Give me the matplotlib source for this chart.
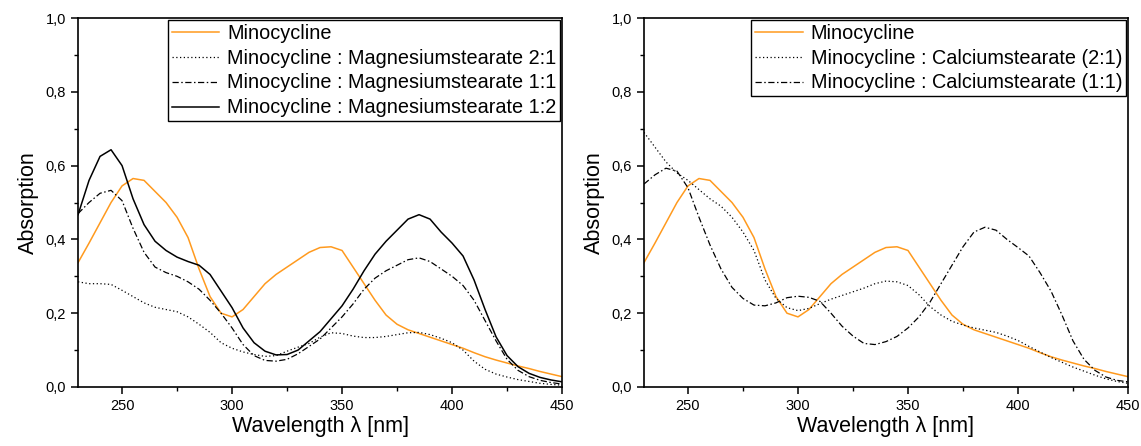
import numpy as np
import matplotlib.pyplot as plt
from matplotlib.ticker import MultipleLocator, FuncFormatter

plt.rcParams['font.family'] = ['Liberation Sans', 'DejaVu Sans']

# wavelength grid (nm), values every 5 nm
wavelength = np.arange(230, 451, 5)

minocycline = [0.337, 0.39, 0.445, 0.50, 0.545, 0.565, 0.56, 0.53, 0.50, 0.46,
               0.405, 0.32, 0.245, 0.20, 0.19, 0.21, 0.245, 0.28, 0.305, 0.325,
               0.345, 0.365, 0.378, 0.38, 0.37, 0.325, 0.28, 0.235, 0.195, 0.17,
               0.155, 0.145, 0.135, 0.125, 0.115, 0.105, 0.093, 0.082, 0.073, 0.065,
               0.057, 0.05, 0.042, 0.035, 0.028]

mg_2_1 = [0.285, 0.28, 0.28, 0.278, 0.262, 0.245, 0.228, 0.216, 0.21, 0.204,
          0.19, 0.17, 0.148, 0.12, 0.105, 0.095, 0.088, 0.083, 0.085, 0.097,
          0.108, 0.118, 0.135, 0.147, 0.145, 0.138, 0.134, 0.134, 0.137, 0.142,
          0.147, 0.148, 0.142, 0.132, 0.12, 0.10, 0.07, 0.048, 0.035, 0.027,
          0.02, 0.015, 0.01, 0.007, 0.005]

mg_1_1 = [0.47, 0.50, 0.525, 0.533, 0.505, 0.43, 0.365, 0.325, 0.31, 0.30,
          0.285, 0.265, 0.235, 0.20, 0.16, 0.115, 0.085, 0.072, 0.07, 0.075,
          0.09, 0.11, 0.13, 0.16, 0.19, 0.225, 0.265, 0.295, 0.315, 0.33,
          0.345, 0.35, 0.34, 0.32, 0.30, 0.275, 0.235, 0.18, 0.125, 0.075,
          0.045, 0.028, 0.018, 0.012, 0.008]

mg_1_2 = [0.467, 0.56, 0.625, 0.643, 0.60, 0.51, 0.44, 0.395, 0.37, 0.352,
          0.34, 0.33, 0.305, 0.26, 0.215, 0.16, 0.12, 0.097, 0.087, 0.088,
          0.10, 0.125, 0.15, 0.185, 0.22, 0.265, 0.315, 0.36, 0.395, 0.425,
          0.455, 0.467, 0.455, 0.42, 0.39, 0.355, 0.29, 0.21, 0.136, 0.085,
          0.055, 0.037, 0.026, 0.019, 0.014]

ca_2_1 = [0.69, 0.65, 0.61, 0.58, 0.56, 0.535, 0.51, 0.49, 0.46, 0.42,
          0.37, 0.29, 0.24, 0.215, 0.207, 0.213, 0.226, 0.238, 0.248, 0.258,
          0.268, 0.28, 0.287, 0.285, 0.275, 0.25, 0.218, 0.195, 0.178, 0.168,
          0.16, 0.154, 0.148, 0.138, 0.126, 0.11, 0.095, 0.08, 0.067, 0.054,
          0.043, 0.032, 0.022, 0.015, 0.01]

ca_1_1 = [0.55, 0.575, 0.593, 0.585, 0.54, 0.46, 0.385, 0.32, 0.27, 0.24,
          0.222, 0.22, 0.228, 0.242, 0.246, 0.243, 0.232, 0.20, 0.165, 0.138,
          0.118, 0.115, 0.123, 0.137, 0.16, 0.19, 0.23, 0.28, 0.33, 0.38,
          0.42, 0.433, 0.425, 0.40, 0.378, 0.355, 0.31, 0.26, 0.195, 0.125,
          0.075, 0.045, 0.027, 0.018, 0.014]

ORANGE = '#FF9A1E'
DOTTED = (0, (1, 2))
DASHDOT = (0, (5, 2, 1.2, 2))


def comma(v, pos):
    return f'{v:.1f}'.replace('.', ',')


def style_axes(ax):
    ax.set_xlim(230, 450)
    ax.set_ylim(0, 1.0)
    ax.xaxis.set_major_locator(MultipleLocator(50))
    ax.xaxis.set_minor_locator(MultipleLocator(25))
    ax.yaxis.set_major_locator(MultipleLocator(0.2))
    ax.yaxis.set_minor_locator(MultipleLocator(0.1))
    ax.yaxis.set_major_formatter(FuncFormatter(comma))
    ax.tick_params(which='major', direction='out', length=5, width=1.1,
                   labelsize=10.5, top=False, right=False)
    ax.tick_params(which='minor', direction='out', length=3, width=1.0,
                   top=False, right=False)
    for s in ax.spines.values():
        s.set_linewidth(1.2)
    ax.set_xlabel('Wavelength λ [nm]', fontsize=15.5, labelpad=2)
    ax.set_ylabel('Absorption', fontsize=15.5, labelpad=5)


fig = plt.figure(figsize=(11.41, 4.46), dpi=100)
ax1 = fig.add_axes([0.0684, 0.1323, 0.4242, 0.8273])
ax2 = fig.add_axes([0.5644, 0.1323, 0.4242, 0.8273])

# left panel: magnesium stearate
ax1.plot(wavelength, minocycline, color=ORANGE, lw=1.1, label='Minocycline')
ax1.plot(wavelength, mg_2_1, color='black', lw=0.9, ls=DOTTED,
         label='Minocycline : Magnesiumstearate 2:1')
ax1.plot(wavelength, mg_1_1, color='black', lw=0.9, ls=DASHDOT,
         label='Minocycline : Magnesiumstearate 1:1')
ax1.plot(wavelength, mg_1_2, color='black', lw=1.1,
         label='Minocycline : Magnesiumstearate 1:2')
style_axes(ax1)

# right panel: calcium stearate
ax2.plot(wavelength, minocycline, color=ORANGE, lw=1.1, label='Minocycline')
ax2.plot(wavelength, ca_2_1, color='black', lw=0.9, ls=DOTTED,
         label='Minocycline : Calciumstearate (2:1)')
ax2.plot(wavelength, ca_1_1, color='black', lw=0.9, ls=DASHDOT,
         label='Minocycline : Calciumstearate (1:1)')
style_axes(ax2)

for ax in (ax1, ax2):
    leg = ax.legend(loc='upper right', fontsize=14.3, frameon=True, fancybox=False,
                    framealpha=1, edgecolor='black', borderaxespad=0.08,
                    handlelength=2.4, handletextpad=0.4, labelspacing=0.3,
                    borderpad=0.2)
    leg.get_frame().set_linewidth(1.0)

fig.savefig('out.png', dpi=100)
